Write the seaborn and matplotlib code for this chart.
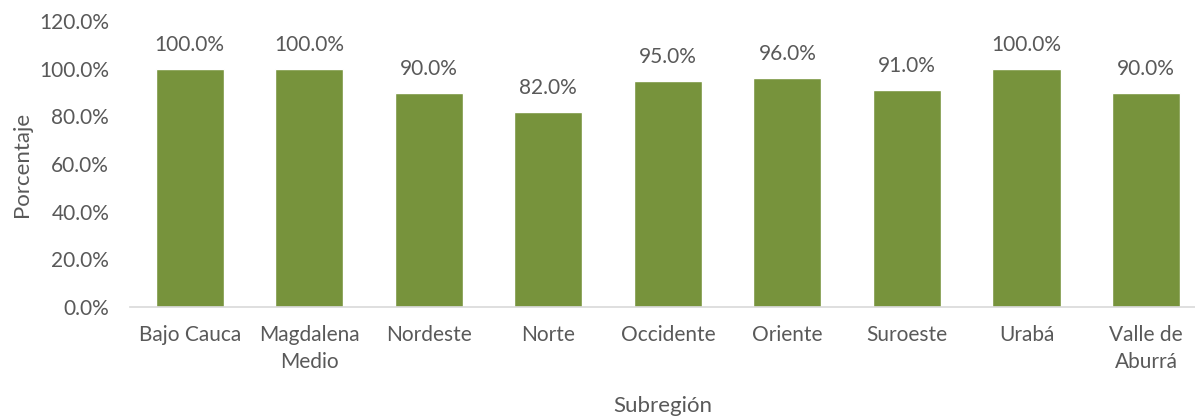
import matplotlib
matplotlib.use("Agg")
import matplotlib.pyplot as plt
import seaborn as sns
import pandas as pd
from matplotlib.ticker import FuncFormatter, MultipleLocator

categorias = ["Bajo Cauca", "Magdalena\nMedio", "Nordeste", "Norte", "Occidente",
              "Oriente", "Suroeste", "Urabá", "Valle de\nAburrá"]
porcentajes = [100.0, 100.0, 90.0, 82.0, 95.0, 96.0, 91.0, 100.0, 90.0]

df = pd.DataFrame({"Subregión": categorias, "Porcentaje": porcentajes})

sns.set_theme(style="white")
plt.rcParams["font.family"] = ["Lato", "DejaVu Sans"]
gray = "#595959"

fig = plt.figure(figsize=(11.95, 4.18), dpi=100)
ax = fig.add_axes([130 / 1195, (418 - 307) / 418, (1195 - 130) / 1195, (307 - 21) / 418])

sns.barplot(data=df, x="Subregión", y="Porcentaje", color="#77933C", width=0.57,
            saturation=1, ax=ax)

ax.set_xlim(-0.5, 8.41)
ax.set_ylim(0, 120)
ax.yaxis.set_major_locator(MultipleLocator(20))
ax.yaxis.set_major_formatter(FuncFormatter(lambda v, p: f"{v:.1f}%"))

for i, v in enumerate(porcentajes):
    ax.annotate(f"{v:.1f}%", (i, v), xytext=(0, 10), textcoords="offset points",
                ha="center", va="bottom", fontsize=15, color=gray)

ax.tick_params(axis="both", labelsize=15, colors=gray, length=0)
ax.tick_params(axis="x", pad=13)
ax.tick_params(axis="y", pad=15)
for lbl in ax.get_xticklabels():
    lbl.set_linespacing(1.45)

for s in ["top", "right", "left"]:
    ax.spines[s].set_visible(False)
ax.spines["bottom"].set_color("#D9D9D9")
ax.spines["bottom"].set_linewidth(1.2)

ax.set_xlabel("Subregión", fontsize=16, color=gray, labelpad=17)
ax.set_ylabel("Porcentaje", fontsize=16, color=gray, labelpad=5)
ax.grid(False)

fig.savefig("out.png", dpi=100)
